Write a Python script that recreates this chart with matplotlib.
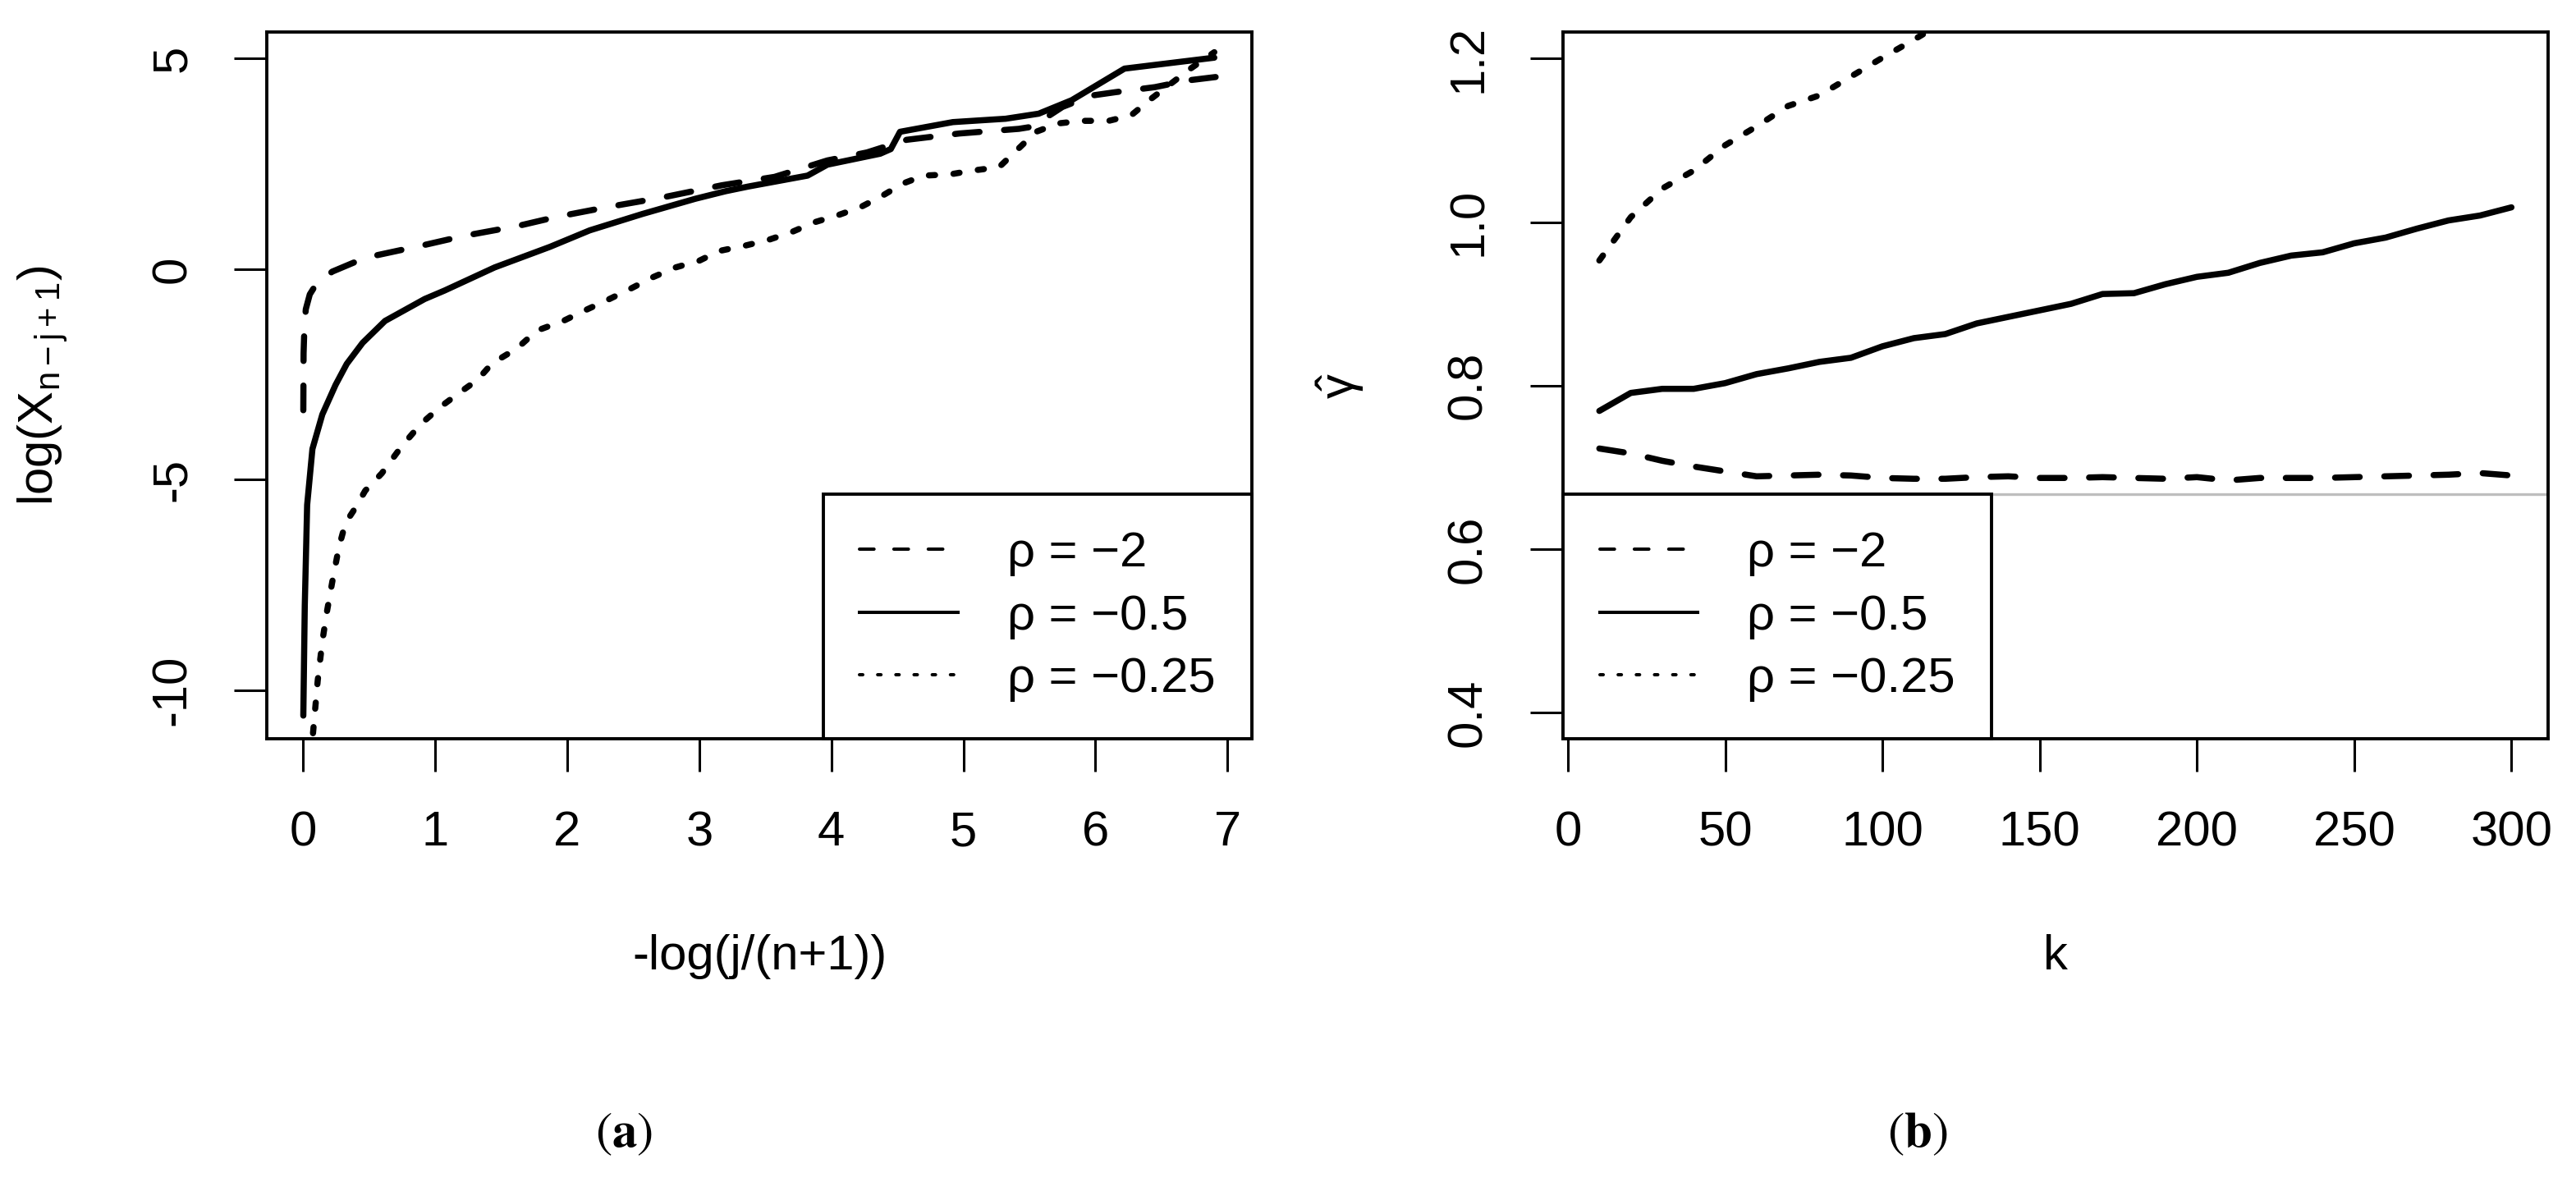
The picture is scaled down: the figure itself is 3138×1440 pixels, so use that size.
import matplotlib
matplotlib.use("Agg")
import matplotlib.pyplot as plt
from matplotlib.lines import Line2D

# ---------------------------------------------------------------------------
# data
# ---------------------------------------------------------------------------

# (a) log-quantile plot, one curve per rho
qq_x_rho2 = [0.001, 0.003, 0.01, 0.02, 0.05, 0.10, 0.22, 0.47, 0.90, 1.22, 1.62, 1.92,
             2.30, 2.72, 3.17, 3.57, 3.97, 4.27, 4.57, 4.97, 5.42, 5.52, 5.75, 5.97,
             6.15, 6.45, 6.70, 6.91]
qq_y_rho2 = [-3.35, -2.0, -1.3, -0.95, -0.6, -0.35, -0.06, 0.27, 0.56, 0.79, 1.02, 1.24,
             1.47, 1.70, 1.99, 2.19, 2.58, 2.77, 3.07, 3.22, 3.33, 3.38, 3.85, 4.12,
             4.20, 4.32, 4.48, 4.56]

qq_x_rho05 = [0.001, 0.012, 0.03, 0.07, 0.145, 0.245, 0.33, 0.45, 0.62, 0.92, 1.07, 1.45,
              1.87, 2.17, 2.57, 2.97, 3.20, 3.37, 3.82, 3.97, 4.37, 4.45, 4.52, 4.92,
              5.32, 5.57, 5.82, 6.22, 6.90]
qq_y_rho05 = [-10.6, -8.0, -5.6, -4.27, -3.45, -2.75, -2.25, -1.75, -1.23, -0.71, -0.51, 0.04,
              0.53, 0.92, 1.31, 1.67, 1.85, 1.96, 2.22, 2.48, 2.74, 2.85, 3.26, 3.49,
              3.57, 3.69, 4.01, 4.76, 5.02]

qq_x_rho025 = [0.055, 0.07, 0.09, 0.11, 0.145, 0.18, 0.22, 0.27, 0.32, 0.395, 0.47, 0.595,
               0.745, 0.89, 1.04, 1.19, 1.32, 1.43, 1.62, 1.77, 1.97, 2.12, 2.30, 2.47,
               2.65, 2.82, 3.00, 3.15, 3.35, 3.52, 3.70, 3.87, 4.05, 4.22, 4.38, 4.54,
               4.70, 4.90, 5.07, 5.27, 5.40, 5.55, 5.72, 5.90, 6.10, 6.27, 6.42, 6.72, 6.90]
qq_y_rho025 = [-11.6, -11.17, -10.47, -9.77, -8.84, -8.13, -7.43, -6.61, -6.03, -5.67, -5.26, -4.85,
               -4.21, -3.68, -3.27, -2.92, -2.63, -2.24, -1.88, -1.46, -1.23, -1.0, -0.74, -0.48,
               -0.19, 0.04, 0.20, 0.43, 0.56, 0.69, 0.88, 1.11, 1.28, 1.47, 1.73, 2.03,
               2.22, 2.25, 2.34, 2.42, 2.81, 3.26, 3.46, 3.52, 3.52, 3.65, 4.04, 4.76, 5.15]

# (b) estimates of gamma against k
k_values = [10, 20, 30, 40, 50, 60, 70, 80, 90, 100, 110, 120, 130, 140, 150,
            160, 170, 180, 190, 200, 210, 220, 230, 240, 250, 260, 270, 280, 290, 300]
gamma_rho2 = [0.723, 0.717, 0.708, 0.701, 0.695, 0.689, 0.690, 0.691, 0.690, 0.687,
              0.686, 0.686, 0.688, 0.689, 0.687, 0.687, 0.688, 0.687, 0.686, 0.688,
              0.684, 0.687, 0.687, 0.687, 0.688, 0.689, 0.690, 0.691, 0.693, 0.690]
gamma_rho05 = [0.769, 0.791, 0.796, 0.796, 0.803, 0.814, 0.821, 0.829, 0.834, 0.848,
               0.858, 0.863, 0.876, 0.884, 0.892, 0.900, 0.912, 0.913, 0.924, 0.933,
               0.938, 0.950, 0.959, 0.963, 0.974, 0.981, 0.992, 1.002, 1.008, 1.018]
# the rho = -0.25 curve leaves the plot after k = 110
gamma_rho025 = [0.953, 1.006, 1.041, 1.063, 1.094, 1.117, 1.142, 1.155, 1.178, 1.201,
                1.223, 1.246]
true_gamma = 0.667

legend_labels = ["\u03c1 = \u22122", "\u03c1 = \u22120.5", "\u03c1 = \u22120.25"]

xticks_a = [0, 1, 2, 3, 4, 5, 6, 7]
xticklabels_a = ["0", "1", "2", "3", "4", "5", "6", "7"]
yticks_a = [-10, -5, 0, 5]
yticklabels_a = ["-10", "-5", "0", "5"]
xticks_b = [0, 50, 100, 150, 200, 250, 300]
xticklabels_b = ["0", "50", "100", "150", "200", "250", "300"]
yticks_b = [0.4, 0.6, 0.8, 1.0, 1.2]
yticklabels_b = ["0.4", "0.6", "0.8", "1.0", "1.2"]

# ---------------------------------------------------------------------------
# style
# ---------------------------------------------------------------------------
plt.rcParams["font.family"] = ["Liberation Sans", "DejaVu Sans"]
plt.rcParams["mathtext.fontset"] = "custom"
plt.rcParams["mathtext.rm"] = "Liberation Sans"
plt.rcParams["mathtext.it"] = "Liberation Sans:italic"
plt.rcParams["mathtext.bf"] = "Liberation Sans:bold"
plt.rcParams["axes.unicode_minus"] = False

FS = 21.5
LW = 2.7
DASHED = (0, (4, 4))
DOTTED = (0, (1, 3))
common = dict(color="black", lw=LW, solid_capstyle="round", dash_capstyle="round",
              solid_joinstyle="round", dash_joinstyle="round")

fig = plt.figure(figsize=(15.69, 7.2), dpi=200)
ax1 = fig.add_axes([0.1036, 0.375, 0.3824, 0.5976])
ax2 = fig.add_axes([0.6067, 0.375, 0.3824, 0.5976])


def style_axes(ax):
    for sp in ax.spines.values():
        sp.set_linewidth(1.4)
    ax.tick_params(direction="out", length=14.4, width=1.1, pad=17, labelsize=FS)


def add_legend(ax, loc):
    handles = [
        Line2D([], [], color="black", lw=1.45, ls=(0, (4.4, 6)), dash_capstyle="round"),
        Line2D([], [], color="black", lw=1.45),
        Line2D([], [], color="black", lw=1.45, ls=(0, (1, 4.5)), dash_capstyle="round"),
    ]
    leg = ax.legend(handles, legend_labels, loc=loc, fontsize=FS, borderaxespad=0,
                    fancybox=False, framealpha=1, edgecolor="black",
                    handlelength=2.0, handletextpad=1.0, borderpad=0.75,
                    labelspacing=0.36)
    leg.get_frame().set_linewidth(1.4)
    return leg


# ---------------------------------------------------------------------------
# (a)
# ---------------------------------------------------------------------------
ax1.plot(qq_x_rho2, qq_y_rho2, ls=DASHED, **common)
ax1.plot(qq_x_rho05, qq_y_rho05, ls="-", **common)
ax1.plot(qq_x_rho025, qq_y_rho025, ls=DOTTED, **common)
ax1.set_xlim(-0.275, 7.185)
ax1.set_ylim(-11.15, 5.62)
ax1.set_xticks(xticks_a)
ax1.set_xticklabels(xticklabels_a)
ax1.set_yticks(yticks_a)
ax1.set_yticklabels(yticklabels_a, rotation=90, va="center")
style_axes(ax1)
ax1.set_xlabel("-log(j/(n+1))", fontsize=FS, va="center")
ax1.xaxis.set_label_coords(0.5, -0.308)
ax1.set_ylabel(r"$\mathrm{log(X_{n-j+1})}$", fontsize=FS, va="center")
ax1.yaxis.set_label_coords(-0.2275, 0.5)
add_legend(ax1, "lower right")

# ---------------------------------------------------------------------------
# (b)
# ---------------------------------------------------------------------------
ax2.axhline(true_gamma, color="#BEBEBE", lw=1.2)
ax2.plot(k_values, gamma_rho2, ls=DASHED, **common)
ax2.plot(k_values, gamma_rho05, ls="-", **common)
ax2.plot(k_values[:len(gamma_rho025)], gamma_rho025, ls=DOTTED, **common)
ax2.set_xlim(-1.6, 311.6)
ax2.set_ylim(0.368, 1.232)
ax2.set_xticks(xticks_b)
ax2.set_xticklabels(xticklabels_b)
ax2.set_yticks(yticks_b)
ax2.set_yticklabels(yticklabels_b, rotation=90, va="center")
style_axes(ax2)
ax2.set_xlabel("k", fontsize=FS, va="center")
ax2.xaxis.set_label_coords(0.5, -0.308)
ax2.set_ylabel(r"$\hat{\mathrm{\gamma}}$", fontsize=FS, va="center")
ax2.yaxis.set_label_coords(-0.226, 0.5)
add_legend(ax2, "lower left")

# sub-figure captions
fig.text(0.2422, 0.0403, r"$(\mathbf{a})$", fontsize=22, ha="center", va="center",
         math_fontfamily="stix")
fig.text(0.7444, 0.0403, r"$(\mathbf{b})$", fontsize=22, ha="center", va="center",
         math_fontfamily="stix")

fig.savefig("out.png", dpi=200, facecolor="white")
